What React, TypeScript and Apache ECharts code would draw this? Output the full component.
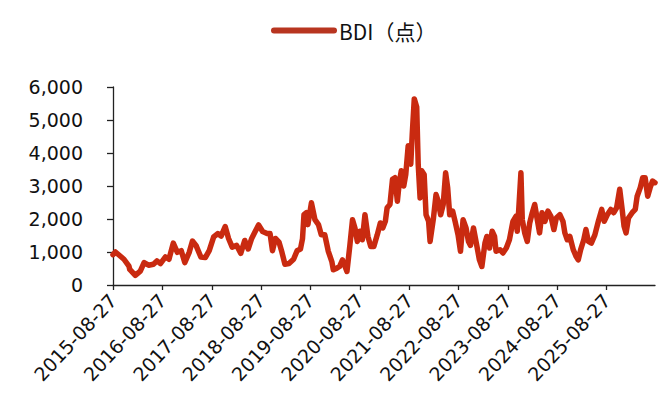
import React, { useEffect, useRef } from "react";
import * as echarts from "echarts";

const seriesName = "BDI（点）";

const dates: string[] = [
  "2015-08-27", "2015-09-14", "2015-11-16", "2015-12-23", "2015-12-29", "2016-02-08",
  "2016-03-16", "2016-04-13", "2016-05-16", "2016-06-21", "2016-07-17", "2016-08-12",
  "2016-09-18", "2016-10-14", "2016-11-15", "2016-12-15", "2017-01-13", "2017-02-08",
  "2017-03-13", "2017-04-06", "2017-05-02", "2017-06-07", "2017-07-10", "2017-08-08",
  "2017-09-10", "2017-10-10", "2017-11-04", "2017-12-04", "2017-12-29", "2018-01-25",
  "2018-02-27", "2018-03-29", "2018-04-28", "2018-05-23", "2018-06-18", "2018-07-14",
  "2018-08-08", "2018-09-07", "2018-10-10", "2018-11-01", "2018-11-19", "2018-12-11",
  "2019-01-06", "2019-01-28", "2019-02-19", "2019-03-21", "2019-04-24", "2019-05-20",
  "2019-06-14", "2019-06-29", "2019-07-10", "2019-07-28", "2019-08-08", "2019-09-03",
  "2019-09-29", "2019-10-25", "2019-11-15", "2019-12-11", "2020-01-06", "2020-02-01",
  "2020-02-12", "2020-03-09", "2020-03-29", "2020-04-20", "2020-05-09", "2020-05-23",
  "2020-06-14", "2020-07-03", "2020-07-21", "2020-08-08", "2020-08-27", "2020-09-14",
  "2020-10-03", "2020-10-25", "2020-11-15", "2020-12-08", "2021-01-02", "2021-01-25",
  "2021-02-12", "2021-03-03", "2021-03-16", "2021-04-06", "2021-04-25", "2021-05-13",
  "2021-05-31", "2021-06-14", "2021-06-29", "2021-07-17", "2021-08-01", "2021-08-19",
  "2021-09-07", "2021-09-18", "2021-10-03", "2021-10-21", "2021-11-01", "2021-11-15",
  "2021-11-27", "2021-12-15", "2021-12-29", "2022-01-17", "2022-01-28", "2022-02-22",
  "2022-03-13", "2022-03-29", "2022-04-16", "2022-05-05", "2022-05-23", "2022-06-07",
  "2022-06-22", "2022-07-14", "2022-08-01", "2022-08-23", "2022-09-10", "2022-09-29",
  "2022-10-21", "2022-11-08", "2022-11-23", "2022-12-15", "2023-01-06", "2023-01-28",
  "2023-02-15", "2023-03-10", "2023-03-24", "2023-04-13", "2023-05-02", "2023-05-20",
  "2023-05-31", "2023-06-29", "2023-07-21", "2023-08-15", "2023-09-07", "2023-10-03",
  "2023-10-25", "2023-11-04", "2023-11-15", "2023-12-01", "2023-12-11", "2023-12-29",
  "2024-01-17", "2024-02-04", "2024-02-23", "2024-03-12", "2024-03-29", "2024-04-17",
  "2024-05-05", "2024-05-27", "2024-06-18", "2024-07-10", "2024-08-01", "2024-08-19",
  "2024-09-14", "2024-10-07", "2024-10-21", "2024-11-08", "2024-11-27", "2024-12-22",
  "2025-01-13", "2025-01-28", "2025-02-15", "2025-03-10", "2025-03-26", "2025-04-13",
  "2025-05-05", "2025-05-31", "2025-06-26", "2025-07-21", "2025-08-08", "2025-08-31",
  "2025-09-26", "2025-10-17", "2025-11-08", "2025-12-01", "2025-12-19", "2026-01-02",
  "2026-01-17", "2026-02-04", "2026-03-03", "2026-03-26", "2026-04-09", "2026-05-02",
  "2026-05-20", "2026-06-07", "2026-06-26", "2026-07-14", "2026-08-01", "2026-08-19",
];

const bdi: number[] = [
  920, 1000, 780, 570, 470, 290,
  420, 680, 600, 630, 730, 650,
  850, 780, 1270, 990, 1040, 680,
  990, 1330, 1200, 850, 830, 1040,
  1460, 1560, 1480, 1770, 1410, 1150,
  1200, 960, 1350, 1090, 1410, 1620,
  1820, 1620, 1560, 1560, 1040, 1410,
  1300, 990, 630, 650, 780, 1040,
  1090, 1400, 2130, 2190, 1830, 2490,
  1980, 1830, 1520, 1520, 1020, 710,
  460, 510, 560, 760, 560, 410,
  1220, 1980, 1730, 1320, 1630, 1370,
  2130, 1470, 1170, 1170, 1520, 1880,
  1730, 1930, 2340, 2440, 3200, 3250,
  2540, 3100, 3460, 3000, 3350, 4220,
  3660, 4570, 5640, 5390, 3660, 2640,
  3460, 3350, 2130, 1930, 1320, 2030,
  2740, 2540, 2130, 2440, 3400, 2950,
  2130, 2240, 1930, 1520, 1020, 1980,
  1730, 1320, 1200, 1730, 1250, 760,
  560, 1270, 1470, 1120, 1630, 1470,
  1020, 1070, 970, 1120, 1370, 1930,
  2080, 1630, 2290, 3400, 1980, 1580,
  1320, 1880, 2190, 2440, 2030, 1580,
  2190, 1930, 2240, 2080, 1680, 2030,
  2130, 1930, 1580, 1370, 1470, 1070,
  860, 760, 1070, 1370, 1680, 1320,
  1270, 1520, 1930, 2290, 1930, 2130,
  2290, 2190, 2340, 2900, 2290, 1780,
  1580, 2030, 2190, 2290, 2690, 2950,
  3250, 3250, 2690, 2950, 3150, 3100,
];

const xTickDates: string[] = [
  "2015-08-27", "2016-08-27", "2017-08-27", "2018-08-27", "2019-08-27", "2020-08-27",
  "2021-08-27", "2022-08-27", "2023-08-27", "2024-08-27", "2025-08-27",
];

const yTicks: number[] = [0, 1000, 2000, 3000, 4000, 5000, 6000];

const ts = (d: string) => Date.parse(d);

export default function App() {
  const ref = useRef<HTMLDivElement>(null);
  useEffect(() => {
    if (!ref.current) return;
    const chart = echarts.init(ref.current, null, { renderer: "svg" });
    const color = "#C92A10";
    const tickVals = xTickDates.map(ts);
    chart.setOption({
      animation: false,
      backgroundColor: "#ffffff",
      legend: {
        data: [seriesName],
        top: 7,
        left: 258,
        itemWidth: 60,
        itemHeight: 14,
        itemGap: 10,
        textStyle: {
          fontFamily: '"Liberation Sans Narrow", "Noto Sans CJK SC", sans-serif',
          fontSize: 21,
          color: "#111",
        },
        lineStyle: { width: 6, cap: "round", color: "#B83520" },
        itemStyle: { opacity: 0 },
      },
      grid: { left: 105, right: 9, top: 79, bottom: 115, containLabel: false },
      xAxis: {
        type: "value",
        min: ts(dates[0]),
        max: ts(dates[dates.length - 1]),
        axisLine: { show: true, onZero: false, lineStyle: { color: "#222", width: 1.3 } },
        axisTick: { show: true, customValues: tickVals, length: 5, lineStyle: { color: "#222", width: 1.3 } },
        splitLine: { show: false },
        axisLabel: {
          customValues: tickVals,
          rotate: 47,
          margin: 12,
          fontFamily: '"DejaVu Sans", sans-serif',
          fontSize: 19,
          color: "#111",
          formatter: (v: number) => new Date(v).toISOString().slice(0, 10),
        },
      },
      yAxis: {
        type: "value",
        min: yTicks[0],
        max: yTicks[yTicks.length - 1],
        interval: 1000,
        axisLine: { show: true, lineStyle: { color: "#222", width: 1.3 } },
        axisTick: { show: true, length: 6, lineStyle: { color: "#222", width: 1.3 } },
        splitLine: { show: false },
        axisLabel: {
          margin: 30,
          fontFamily: '"DejaVu Sans", sans-serif',
          fontSize: 19,
          color: "#111",
          formatter: (v: number) => v.toLocaleString("en-US"),
        },
      },
      series: [
        {
          name: seriesName,
          type: "line",
          showSymbol: false,
          symbol: "none",
          data: dates.map((d, i) => [ts(d), bdi[i]]),
          lineStyle: { color, width: 5.5, join: "round", cap: "round" },
          itemStyle: { color },
        },
      ],
    });
    return () => chart.dispose();
  }, []);
  return <div ref={ref} style={{ width: 656, height: 392 }} />;
}
